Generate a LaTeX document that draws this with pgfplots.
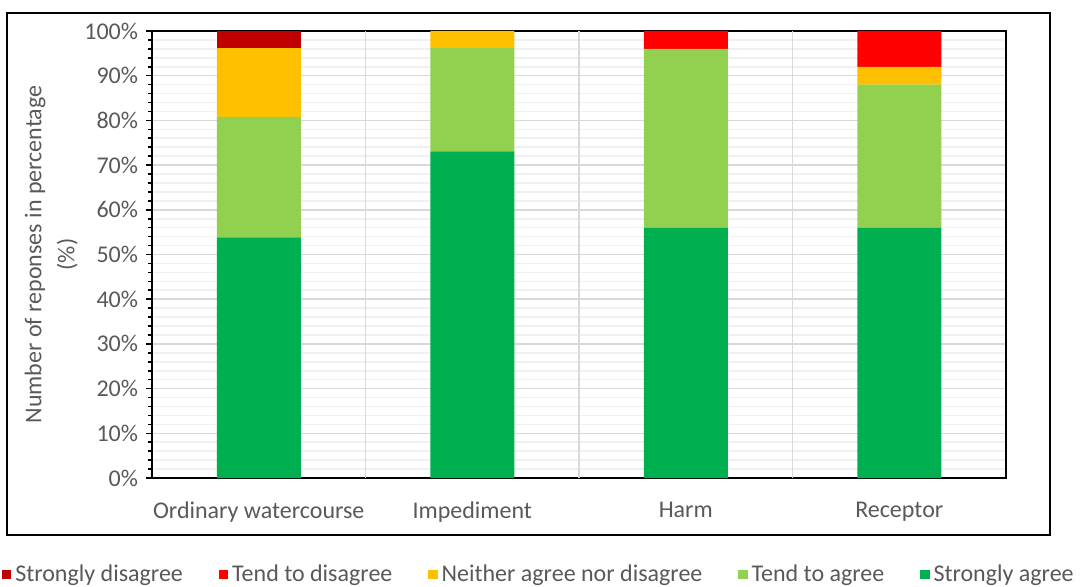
\documentclass[border=0pt]{standalone}
\usepackage{pgfplots}
\pgfplotsset{compat=1.18}
\usepackage{fontspec}
\setmainfont{Carlito}
\definecolor{sdis}{HTML}{C00000}
\definecolor{tdis}{HTML}{FF0000}
\definecolor{neit}{HTML}{FFC000}
\definecolor{tagr}{HTML}{92D050}
\definecolor{sagr}{HTML}{00B050}
\definecolor{tcol}{HTML}{595959}
\definecolor{gmaj}{HTML}{D9D9D9}
\definecolor{gmin}{HTML}{F0F0F0}
\begin{document}
\begin{tikzpicture}[x=1pt,y=1pt]
\fontsize{12}{14.4}\selectfont
\begin{axis}[
  at={(76pt,-239pt)}, anchor=south west,
  width=427pt, height=223.5pt, scale only axis,
  xmin=-0.5, xmax=3.5, ymin=0, ymax=100,
  ybar stacked, bar width=42pt,
  xtick={0,1,2,3},
  xticklabels={Ordinary watercourse, Impediment, Harm, Receptor},
  x tick style={draw=none},
  extra x ticks={0.5,1.5,2.5}, extra x tick labels={},
  extra x tick style={grid=major, major tick length=0pt},
  ytick={0,10,...,100},
  minor y tick num=4,
  yticklabel={\pgfmathprintnumber{\tick}\%},
  /pgf/number format/assume math mode=true,
  ytick pos=left, xtick pos=bottom,
  tick align=outside,
  major tick length=2.8pt, minor tick length=2.2pt,
  y tick style={black, line width=0.8pt},
  ymajorgrids, yminorgrids,
  major grid style={gmaj, line width=0.8pt},
  minor grid style={gmin, line width=0.8pt},
  axis line style={black, line width=1pt},
  tick label style={text=tcol, font=\fontsize{12}{14.4}\selectfont},
  xticklabel style={yshift=-5pt},
  ylabel={Number of reponses in percentage\\(\%)},
  ylabel style={at={(axis description cs:-0.118,0.5)}, anchor=center, align=center, text=tcol, font=\fontsize{12}{16.5}\selectfont},
  legend style={at={(axis description cs:-0.176,-0.2158)}, anchor=west, draw=none, fill=none, inner sep=0pt,
    font=\fontsize{12}{14.4}\selectfont, text=tcol,
    /tikz/every even column/.append style={column sep=16pt}},
  legend columns=5,
  legend cell align=left,
  reverse legend,
  legend image code/.code={\fill[#1] (0pt,-2.4pt) rectangle (4.6pt,2.4pt);},
  every axis plot/.append style={draw=none},
]
\addplot+[fill=sagr] coordinates {(0,53.85) (1,73.08) (2,56) (3,56)};
\addplot+[fill=tagr] coordinates {(0,26.92) (1,23.08) (2,40) (3,32)};
\addplot+[fill=neit] coordinates {(0,15.38) (1,3.84) (2,0) (3,4)};
\addplot+[fill=tdis] coordinates {(0,0) (1,0) (2,4) (3,8)};
\addplot+[fill=sdis] coordinates {(0,3.85) (1,0) (2,0) (3,0)};
\legend{Strongly agree, Tend to agree, Neither agree nor disagree, Tend to disagree, Strongly disagree}
\end{axis}
\draw[black, line width=1pt] (3.5,-6.5) rectangle (525,-267.5);
\pgfresetboundingbox
\path[use as bounding box] (0,0) rectangle (545,-293.5);
\end{tikzpicture}
\end{document}
